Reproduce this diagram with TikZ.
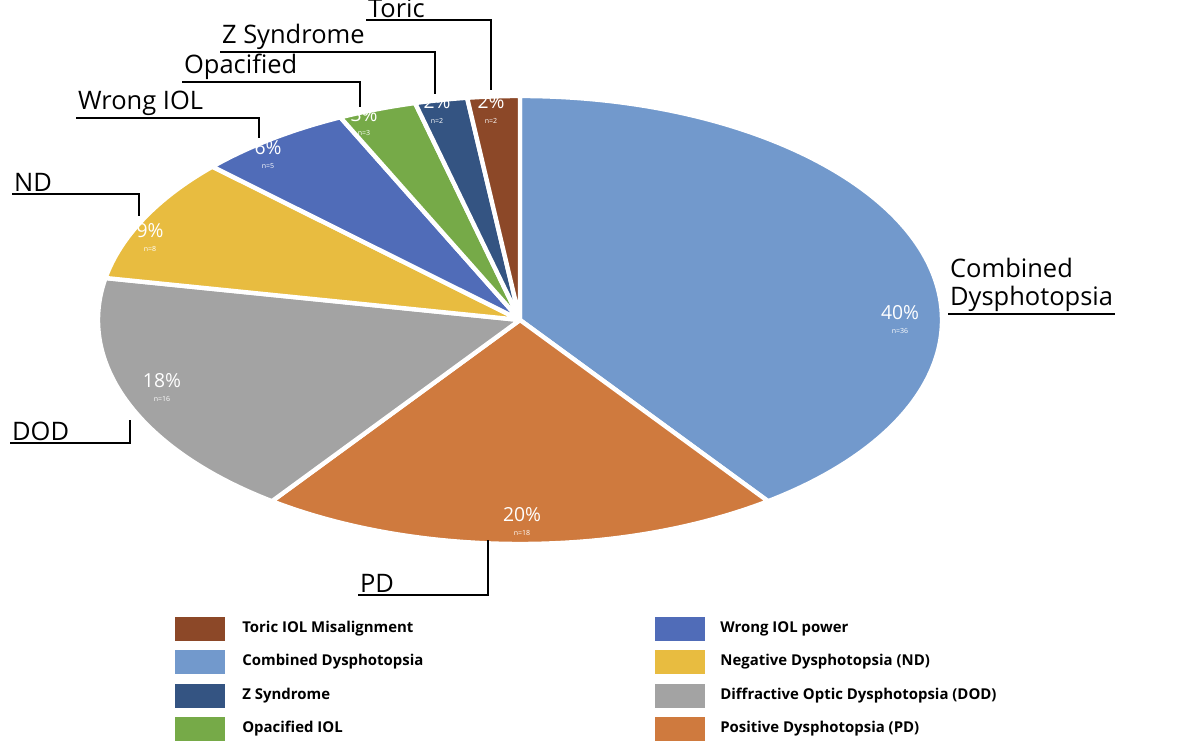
\documentclass[tikz,border=0pt]{standalone}
\usepackage{fontspec}
\setmainfont{Open Sans}
\usepackage{tikz}
\definecolor{cComb}{RGB}{114,153,204}
\definecolor{cPD}{RGB}{207,122,62}
\definecolor{cDOD}{RGB}{163,163,163}
\definecolor{cND}{RGB}{232,188,64}
\definecolor{cWrong}{RGB}{80,108,184}
\definecolor{cOpac}{RGB}{118,170,72}
\definecolor{cZ}{RGB}{52,84,130}
\definecolor{cToric}{RGB}{140,72,40}
\tikzset{
  pct/.style={white, align=center, font=\fontsize{9}{8}\selectfont, inner sep=0pt},
  callout/.style={font=\fontsize{14.5}{16}\selectfont, inner sep=1pt, align=left},
  leader/.style={line width=1.1pt},
  legbox/.style={minimum width=28pt, minimum height=14pt, inner sep=0pt},
  legtext/.style={font=\bfseries\fontsize{8.5}{10}\selectfont, anchor=west, inner sep=0pt}
}
\begin{document}
\begin{tikzpicture}[x=0.02cm, y=0.02cm]
        \useasboundingbox (0, 0) rectangle (1200, 746);
        \coordinate (c) at (520, 426);
        % slices, clockwise from the top
        \foreach \a/\b/\col in {90/-54/cComb, -54/-126/cPD, -126/-190.8/cDOD, -190.8/-223.2/cND, -223.2/-244.8/cWrong, -244.8/-255.6/cOpac, -255.6/-262.8/cZ, -262.8/-270/cToric}
            \filldraw[fill=\col, draw=white, line width=2.5pt, line join=round] (c) -- ++(\a:422 and 224) arc[start angle=\a, end angle=\b, x radius=422, y radius=224] -- cycle;
        \node[pct] (p1) at (900, 426) {\fontsize{11}{11}\selectfont 40\%\\ \fontsize{4}{4}\selectfont n=36};
        \node[pct] (p2) at (522, 224) {\fontsize{11}{11}\selectfont 20\%\\ \fontsize{4}{4}\selectfont n=18};
        \node[pct] (p3) at (162, 358) {\fontsize{11}{11}\selectfont 18\%\\ \fontsize{4}{4}\selectfont n=16};
        \node[pct] (p4) at (150, 508) {\fontsize{11}{11}\selectfont 9\%\\ \fontsize{4}{4}\selectfont n=8};
        \node[pct] (p5) at (268, 591) {\fontsize{11}{11}\selectfont 6\%\\ \fontsize{4}{4}\selectfont n=5};
        \node[pct] (p6) at (364, 624) {\fontsize{11}{11}\selectfont 3\%\\ \fontsize{4}{4}\selectfont n=3};
        \node[pct] (p7) at (437, 637) {\fontsize{11}{11}\selectfont 2\%\\ \fontsize{4}{4}\selectfont n=2};
        \node[pct] (p8) at (491, 637) {\fontsize{11}{11}\selectfont 2\%\\ \fontsize{4}{4}\selectfont n=2};
        % callouts
        \node[callout, anchor=south west] (lComb) at (948, 432) {Combined\\Dysphotopsia};
        \draw[leader] (lComb.south west) -- (lComb.south east);
        \node[callout, anchor=south west] (lPD) at (358, 151) {PD};
        \coordinate (kPD) at (488, 151);
        \draw[leader] (lPD.south west) -- (kPD) -- (488, 206);
        \node[callout, anchor=south west] (lDOD) at (10, 303) {DOD};
        \coordinate (kDOD) at (130, 303);
        \draw[leader] (lDOD.south west) -- (kDOD) -- (130, 326);
        \node[callout, anchor=south west] (lND) at (12, 552) {ND};
        \coordinate (kND) at (139, 552);
        \draw[leader] (lND.south west) -- (kND) -- (139, 530);
        \node[callout, anchor=south west] (lWrong) at (76, 628) {Wrong IOL};
        \coordinate (kWrong) at (259, 628);
        \draw[leader] (lWrong.south west) -- (kWrong) -- (259, 608);
        \node[callout, anchor=south west] (lOpac) at (182, 664) {Opacified};
        \coordinate (kOpac) at (360, 664);
        \draw[leader] (lOpac.south west) -- (kOpac) -- (360, 639);
        \node[callout, anchor=south west] (lZ) at (220, 694) {Z Syndrome};
        \coordinate (kZ) at (435, 694);
        \draw[leader] (lZ.south west) -- (kZ) -- (435, 652);
        \node[callout, anchor=south west] (lToric) at (366, 726) {Toric};
        \coordinate (kToric) at (491, 726);
        \draw[leader] (lToric.south west) -- (kToric) -- (491, 656);
        % legend
        \foreach \y/\col/\txt [count=\i] in {117/cToric/Toric IOL Misalignment, 84/cComb/Combined Dysphotopsia, 50/cZ/Z Syndrome, 17/cOpac/Opacified IOL} {
            \node[legbox, fill=\col] (lbl\i) at (200, \y) {};
            \node[legtext] (lbt\i) at (242, \y) {\txt};
        }
        \foreach \y/\col/\txt [count=\i] in {117/cWrong/Wrong IOL power, 84/cND/Negative Dysphotopsia (ND), 50/cZ!0!cDOD/Diffractive Optic Dysphotopsia (DOD), 17/cPD/Positive Dysphotopsia (PD)} {
            \node[legbox, fill=\col] (lbr\i) at (680, \y) {};
            \node[legtext] (lbrt\i) at (720, \y) {\txt};
        }
\end{tikzpicture}
\end{document}
